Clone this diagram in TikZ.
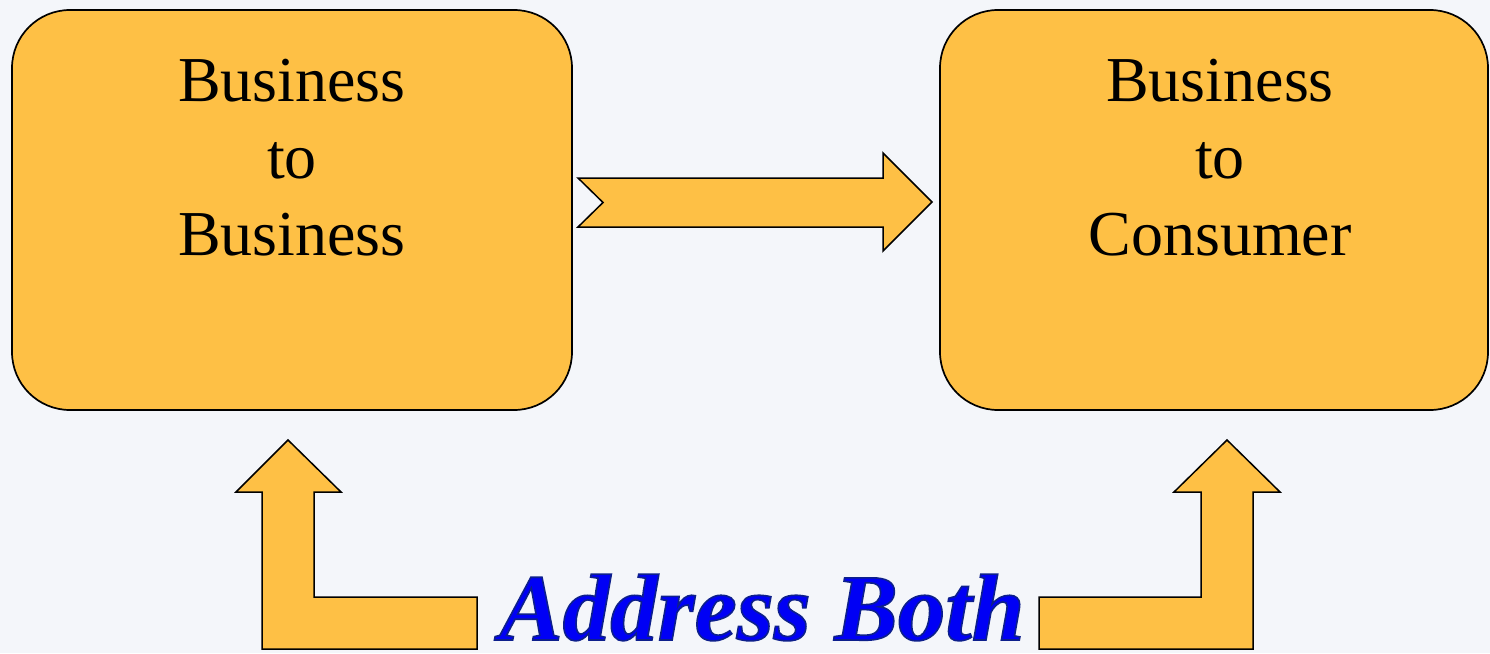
\documentclass[tikz,border=0pt]{standalone}
\usepackage{fontspec}
\setmainfont{Liberation Serif}
\definecolor{boxfill}{RGB}{254,192,69}
\definecolor{bgcol}{RGB}{244,246,250}
\definecolor{txtblue}{RGB}{0,0,245}
\tikzset{
  bigbox/.style={draw=black, line width=1.7pt, fill=boxfill, rounded corners=58pt, inner sep=0pt},
  boxtext/.style={align=center, font=\fontsize{64}{77}\selectfont, inner sep=0pt},
  blockarrow/.style={draw=black, line width=1.5pt, fill=boxfill, line join=miter},
  bigtext/.style={font=\fontsize{95}{100}\selectfont\bfseries\itshape, text=txtblue, inner sep=0pt, text depth=0pt, anchor=base}
}
\begin{document}
\begin{tikzpicture}[x=1pt,y=-1pt]
\useasboundingbox (0,0) rectangle (1490,653);
\fill[bgcol] (0,0) rectangle (1490,653);
% boxes
\node[bigbox, minimum width=560pt, minimum height=400pt] (b2b) at (292,210) {};
\node[bigbox, minimum width=548pt, minimum height=400pt] (b2c) at (1214,210) {};
\node[boxtext] (t1) at (292,158) {Business\\to\\Business};
\node[boxtext] (t2) at (1220,158) {Business\\to\\Consumer};
% arrow between boxes
\draw[blockarrow] (578,178) -- (883,178) -- (883,153) -- (932,202) -- (883,251) -- (883,227) -- (578,227) -- (603,202.5) -- cycle;
% L arrows
\draw[blockarrow] (288,440) -- (341,492) -- (314,492) -- (314,597) -- (477,597) -- (477,649) -- (262,649) -- (262,492) -- (236,492) -- cycle;
\draw[blockarrow] (1227,440) -- (1280,492) -- (1253,492) -- (1253,649) -- (1039,649) -- (1039,597) -- (1201,597) -- (1201,492) -- (1174,492) -- cycle;
% bottom text
\node[bigtext] (ab) at (762,640) {\special{pdf:literal 2 Tr 1.6 w 0.05 0.12 0.55 RG}Address Both\special{pdf:literal 0 Tr}};
\end{tikzpicture}
\end{document}
